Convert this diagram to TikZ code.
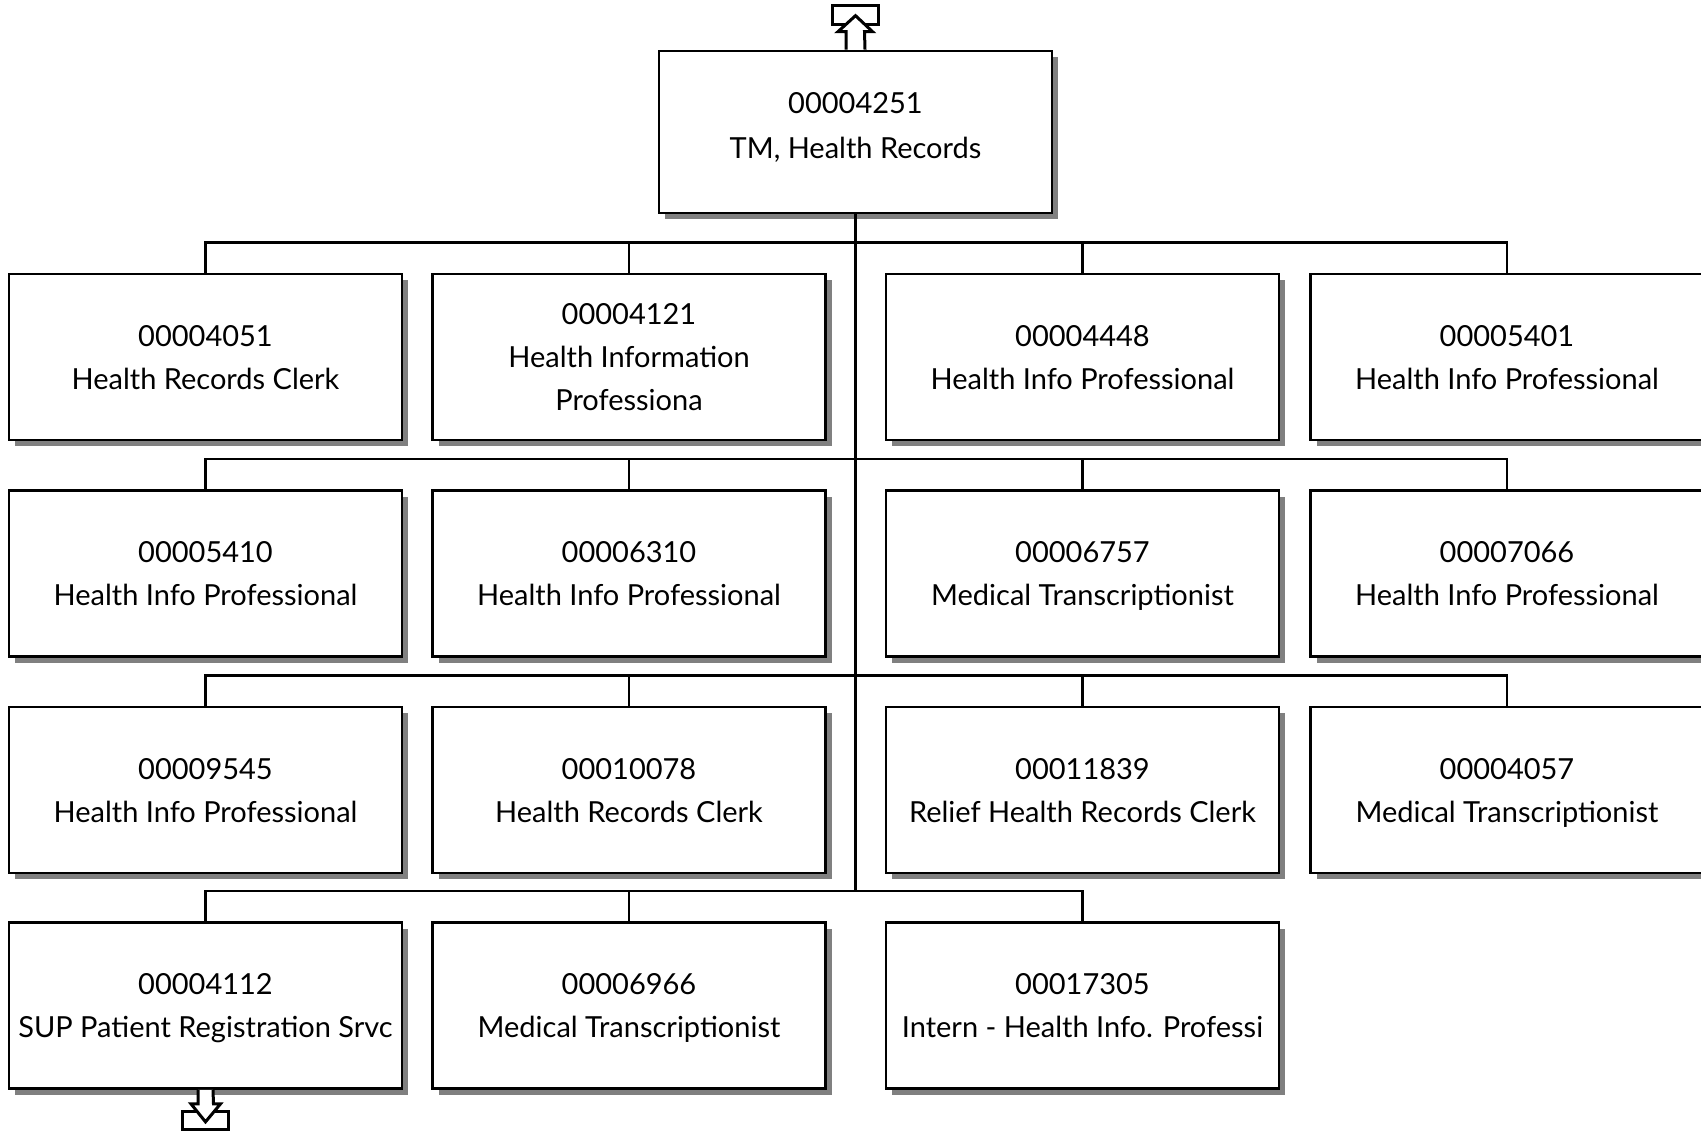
\documentclass[tikz,border=0pt]{standalone}
\usepackage{fontspec}
\setmainfont{Lato}
\usetikzlibrary{positioning, calc, shadows}

\begin{document}
\begin{tikzpicture}[x=0.5pt, y=-0.5pt,
      posbox/.style={draw=black, line width=1.35pt, fill=white, text=black,
        align=center, font=\fontsize{14.5}{21.5}\selectfont, text depth=0pt,
        minimum width=196.5pt, minimum height=83pt, inner sep=0pt,
        drop shadow={shadow xshift=3pt, shadow yshift=-3pt, fill=black!50, opacity=1}},
      link/.style={black, line width=1.2pt},
      icon/.style={draw=black, line width=1.5pt, fill=white, line join=miter}]
    \path[use as bounding box, clip] (0,0) rectangle (1701,1131);

    \node[posbox, minimum height=81pt, text depth=7pt, font=\fontsize{14.5}{22.5}\selectfont]
      (tm) at (855.5,132) {00004251\\TM, Health Records};

    \node[posbox] (p4051) at (205.5,357) {00004051\\Health Records Clerk};
    \node[posbox] (p4121) at (629,357) {00004121\\Health Information\\Professiona};
    \node[posbox] (p4448) at (1082.5,357) {00004448\\Health Info Professional};
    \node[posbox] (p5401) at (1507,357) {00005401\\Health Info Professional};

    \node[posbox] (p5410) at (205.5,573.5) {00005410\\Health Info Professional};
    \node[posbox] (p6310) at (629,573.5) {00006310\\Health Info Professional};
    \node[posbox] (p6757) at (1082.5,573.5) {00006757\\Medical Transcriptionist};
    \node[posbox] (p7066) at (1507,573.5) {00007066\\Health Info Professional};

    \node[posbox] (p9545) at (205.5,790) {00009545\\Health Info Professional};
    \node[posbox] (p10078) at (629,790) {00010078\\Health Records Clerk};
    \node[posbox] (p11839) at (1082.5,790) {00011839\\Relief Health Records Clerk};
    \node[posbox] (p4057) at (1507,790) {00004057\\Medical Transcriptionist};

    \node[posbox] (p4112) at (205.5,1005.5) {00004112\\SUP Patient Registration Srvc};
    \node[posbox] (p6966) at (629,1005.5) {00006966\\Medical Transcriptionist};
    \node[posbox] (p17305) at (1082.5,1005.5) {00017305\\Intern - Health Info. Professi};

    \foreach \sub in {p4051,p4121,p4448,p5401,p5410,p6310,p6757,p7066,
                      p9545,p10078,p11839,p4057,p4112,p6966,p17305}
      \draw[link] (tm.south) |- ($(\sub.north)+(0,-30)$) -- (\sub.north);

    \draw[icon, fill=none] ([shift={(-23,-44)}]tm.north) rectangle ([shift={(23,-25)}]tm.north);
    \draw[icon] ([xshift=-4.75pt]tm.north) -- ++(0,-18) -- ++(-8,0) -- ([yshift=17pt]tm.north)
      -- ([shift={(17,-18)}]tm.north) -- ++(-8,0) -- ([xshift=4.75pt]tm.north);

    \draw[icon, fill=none] ([shift={(-23,22)}]p4112.south) rectangle ([shift={(23,40)}]p4112.south);
    \draw[icon] ([xshift=-3.75pt]p4112.south) -- ++(0,14) -- ++(-7,0) -- ([yshift=-16pt]p4112.south)
      -- ([shift={(15,14)}]p4112.south) -- ++(-7,0) -- ([xshift=3.75pt]p4112.south);
  \end{tikzpicture}
\end{document}
